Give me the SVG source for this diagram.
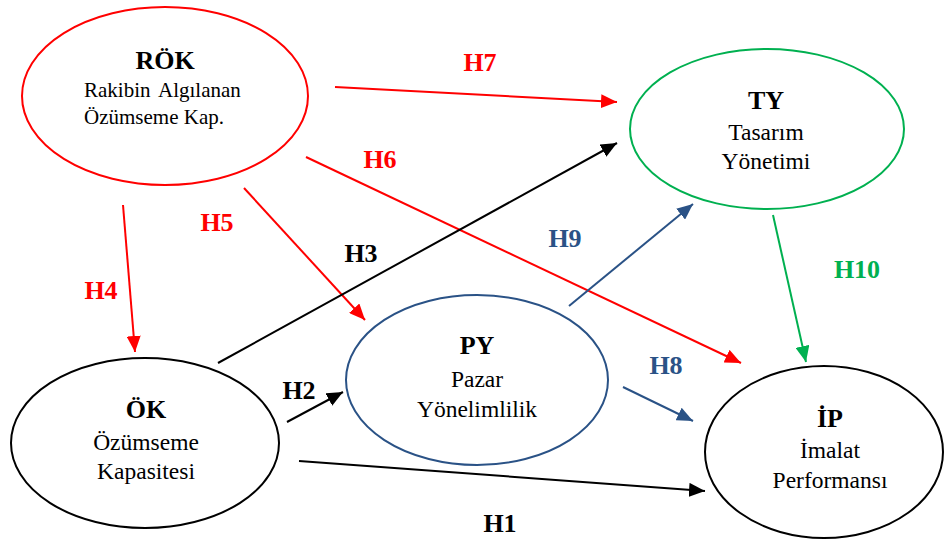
<svg xmlns="http://www.w3.org/2000/svg" width="949" height="541" viewBox="0 0 949 541" font-family="serif">
<defs>
<marker id="ar" markerUnits="userSpaceOnUse" markerWidth="18" markerHeight="14" refX="16" refY="7" orient="auto"><path d="M0,0 L16,7 L0,14 Z" fill="#FF0000"/></marker>
<marker id="ak" markerUnits="userSpaceOnUse" markerWidth="18" markerHeight="14" refX="16" refY="7" orient="auto"><path d="M0,0 L16,7 L0,14 Z" fill="#000"/></marker>
<marker id="ab" markerUnits="userSpaceOnUse" markerWidth="18" markerHeight="14" refX="16" refY="7" orient="auto"><path d="M0,0 L16,7 L0,14 Z" fill="#2A5286"/></marker>
<marker id="ag" markerUnits="userSpaceOnUse" markerWidth="18" markerHeight="14" refX="16" refY="7" orient="auto"><path d="M0,0 L16,7 L0,14 Z" fill="#00B050"/></marker>
</defs>
<rect width="949" height="541" fill="#fff"/>

<g id="connectors" fill="none" stroke-width="2">
<line stroke="#FF0000" x1="335" y1="87" x2="617" y2="102" marker-end="url(#ar)"/>
<line stroke="#FF0000" x1="306" y1="157" x2="741" y2="363" marker-end="url(#ar)"/>
<line stroke="#FF0000" x1="244" y1="188" x2="365" y2="320" marker-end="url(#ar)"/>
<line stroke="#FF0000" x1="123" y1="205" x2="135" y2="352" marker-end="url(#ar)"/>
<line stroke="#000" x1="218" y1="363" x2="617" y2="143" marker-end="url(#ak)"/>
<line stroke="#000" x1="287" y1="422" x2="343" y2="392" marker-end="url(#ak)"/>
<line stroke="#000" x1="299" y1="461" x2="705" y2="491" marker-end="url(#ak)"/>
<line stroke="#2A5286" x1="623" y1="387" x2="693" y2="421" marker-end="url(#ab)"/>
<line stroke="#2A5286" x1="569" y1="306" x2="693" y2="204" marker-end="url(#ab)"/>
<line stroke="#00B050" x1="773" y1="215" x2="806" y2="362" marker-end="url(#ag)"/>
</g>

<g id="ROK">
<ellipse fill="#fff" stroke="#FF0000" stroke-width="2" cx="165" cy="96" rx="143" ry="89"/>
<text x="165" y="69" font-family="Liberation Serif, serif" font-size="26" font-weight="bold" text-anchor="middle">RÖK</text>
<text x="84" y="97" font-family="Liberation Serif, serif" font-size="21">Rakibin <tspan x="158">Algılanan</tspan></text>
<text x="84" y="124" font-family="Liberation Serif, serif" font-size="21">Özümseme Kap.</text>
</g>
<g id="TY">
<ellipse fill="#fff" stroke="#00B050" stroke-width="2" cx="767" cy="129" rx="137" ry="80"/>
<text x="766" y="109" font-family="Liberation Serif, serif" font-size="26" font-weight="bold" text-anchor="middle">TY</text>
<text x="766" y="140" font-family="Liberation Serif, serif" font-size="23.5" text-anchor="middle">Tasarım</text>
<text x="766" y="169" font-family="Liberation Serif, serif" font-size="23.5" text-anchor="middle">Yönetimi</text>
</g>
<g id="OK">
<ellipse fill="#fff" stroke="#000" stroke-width="2" cx="145" cy="443" rx="134" ry="85"/>
<text x="146" y="418" font-family="Liberation Serif, serif" font-size="26" font-weight="bold" text-anchor="middle">ÖK</text>
<text x="146" y="450" font-family="Liberation Serif, serif" font-size="23.5" text-anchor="middle">Özümseme</text>
<text x="146" y="479" font-family="Liberation Serif, serif" font-size="23.5" text-anchor="middle">Kapasitesi</text>
</g>
<g id="PY">
<ellipse fill="#fff" stroke="#2A5286" stroke-width="2" cx="477" cy="380" rx="131" ry="85"/>
<text x="477" y="354" font-family="Liberation Serif, serif" font-size="26" font-weight="bold" text-anchor="middle">PY</text>
<text x="477" y="387" font-family="Liberation Serif, serif" font-size="23.5" text-anchor="middle">Pazar</text>
<text x="477" y="417" font-family="Liberation Serif, serif" font-size="23.5" text-anchor="middle">Yönelimlilik</text>
</g>
<g id="IP">
<ellipse fill="#fff" stroke="#000" stroke-width="2" cx="824" cy="452" rx="119" ry="86"/>
<text x="830" y="427" font-family="Liberation Serif, serif" font-size="26" font-weight="bold" text-anchor="middle">İP</text>
<text x="830" y="458" font-family="Liberation Serif, serif" font-size="23.5" text-anchor="middle">İmalat</text>
<text x="830" y="488" font-family="Liberation Serif, serif" font-size="23.5" text-anchor="middle">Performansı</text>
</g>

<g id="labels" font-family="Liberation Serif, serif" font-size="26" font-weight="bold" text-anchor="middle">
<text x="480" y="71" fill="#FF0000">H7</text>
<text x="380" y="168" fill="#FF0000">H6</text>
<text x="217" y="231" fill="#FF0000">H5</text>
<text x="101" y="299" fill="#FF0000">H4</text>
<text x="361" y="262">H3</text>
<text x="299" y="399">H2</text>
<text x="500" y="532">H1</text>
<text x="565" y="247" fill="#2A5286">H9</text>
<text x="666" y="374" fill="#2A5286">H8</text>
<text x="857" y="278" fill="#00B050">H10</text>
</g>
</svg>
